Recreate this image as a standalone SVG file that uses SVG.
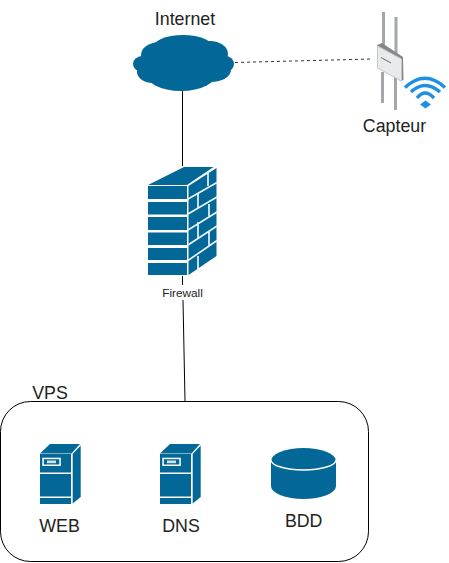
<svg xmlns="http://www.w3.org/2000/svg" width="449" height="563" viewBox="0 0 449 563">
<defs>
<style>
text{font-family:"Liberation Sans",Arial,sans-serif;fill:#222;text-anchor:middle}
.l{font-size:17.800px}
.b{fill:#036897}
.c{fill:none;stroke:#000;stroke-width:1}
</style>
<g id="srv">
<path class="b" d="M0 9.500L10 0H40L31.500 9.500Z"/>
<path class="b" d="M32.700 10L40.700 1.500V53L32.700 59.500Z"/>
<rect class="b" x="0" y="10" width="31" height="18.500"/>
<rect class="b" x="0" y="30" width="31" height="22.500"/>
<rect class="b" x="0" y="54" width="31" height="6"/>
<rect x="2.300" y="13.700" width="18.500" height="8.300" fill="#fff"/>
<rect class="b" x="3.800" y="15.200" width="15.500" height="5.300"/>
<rect x="7" y="16.500" width="9" height="2.700" fill="#cfe3ee"/>
</g>
</defs>
<rect width="449" height="563" fill="#fff"/>
<g id="connectors">
<path class="c" d="M182.500 91V166"/>
<path class="c" d="M182.500 276V285"/>
<path class="c" d="M183 300L185 401"/>
<path d="M235 62.500L372 59" fill="none" stroke="#333" stroke-width="1" stroke-dasharray="3 3"/>
</g>
<g id="internet">
<g class="b">
<ellipse cx="183" cy="49" rx="31" ry="14"/>
<ellipse cx="160" cy="55" rx="19" ry="13"/>
<ellipse cx="210" cy="54" rx="18" ry="13"/>
<ellipse cx="225" cy="64" rx="9" ry="8"/>
<ellipse cx="143" cy="64" rx="10" ry="8"/>
<ellipse cx="153" cy="72" rx="16" ry="11"/>
<ellipse cx="181" cy="71" rx="37" ry="20"/>
<ellipse cx="211" cy="70" rx="20" ry="12"/>
</g>
<text class="l" x="185" y="25">Internet</text>
</g>
<g id="capteur">
<path d="M383.500 12V46M396 17V55M382.500 72V103M395.500 76V110" stroke="#a4a7a9" stroke-width="3" fill="none"/>
<path d="M377 45L382 43L403 57L403.500 80L400 81Z" fill="#85888b"/>
<path d="M377.500 46L401.500 59V81L377.500 68Z" fill="#e9eaeb" stroke="#c4c6c8" stroke-width="1"/>
<path d="M381 57.500L391 63" stroke="#666" stroke-width="1"/>
<g fill="none" stroke="#1d90e6" stroke-width="3.400">
<path d="M405 87.500Q425 69 445 87.500"/>
<path d="M411 92Q425 79 440 92"/>
<path d="M417 98Q425 88 434 98"/>
</g>
<path d="M420 104.500L425.500 100.500L431 104.500L425.500 108.500Z" fill="#1d90e6"/>
<text class="l" x="394.500" y="132">Capteur</text>
</g>
<g id="firewall">
<path class="b" d="M148 185L184 167H213.500L187 185Z"/>
<rect class="b" x="148" y="186" width="39" height="13"/>
<rect class="b" x="148" y="202" width="39" height="12.500"/>
<rect class="b" x="148" y="217" width="39" height="13"/>
<rect class="b" x="148" y="232.500" width="39" height="12.500"/>
<rect class="b" x="148" y="248" width="39" height="12"/>
<rect class="b" x="148" y="263" width="39" height="12"/>
<path class="b" d="M188.500 186L216.500 168V256L188.500 275Z"/>
<path d="M188 199L217 182.500M188 214L217 197M188 230L217 212M188 245L217 226M188 260.500L217 240.500M208 171V186M198 194V208M209 204V218M198 222V238M209 232V246M198 256V270" fill="none" stroke="#e8f2f7" stroke-width="1.700"/>
<text x="182.500" y="297" font-size="11.800">Firewall</text>
</g>
<g id="vps">
<rect x="0.500" y="401.500" width="368" height="160" rx="30" fill="none" stroke="#000"/>
<text class="l" x="50" y="399">VPS</text>
</g>
<g id="web">
<use href="#srv" x="40" y="444"/>
<text class="l" x="59.500" y="532">WEB</text>
</g>
<g id="dns">
<use href="#srv" x="160" y="444"/>
<text class="l" x="181" y="532">DNS</text>
</g>
<g id="bdd">
<path class="b" d="M271 461A32.500 13 0 0 1 336 461V486A32.500 13 0 0 1 271 486Z"/>
<path d="M271 460A32.500 10 0 0 0 336 460" fill="none" stroke="#fff" stroke-width="1.500"/>
<text class="l" x="303.700" y="527">BDD</text>
</g>
</svg>
